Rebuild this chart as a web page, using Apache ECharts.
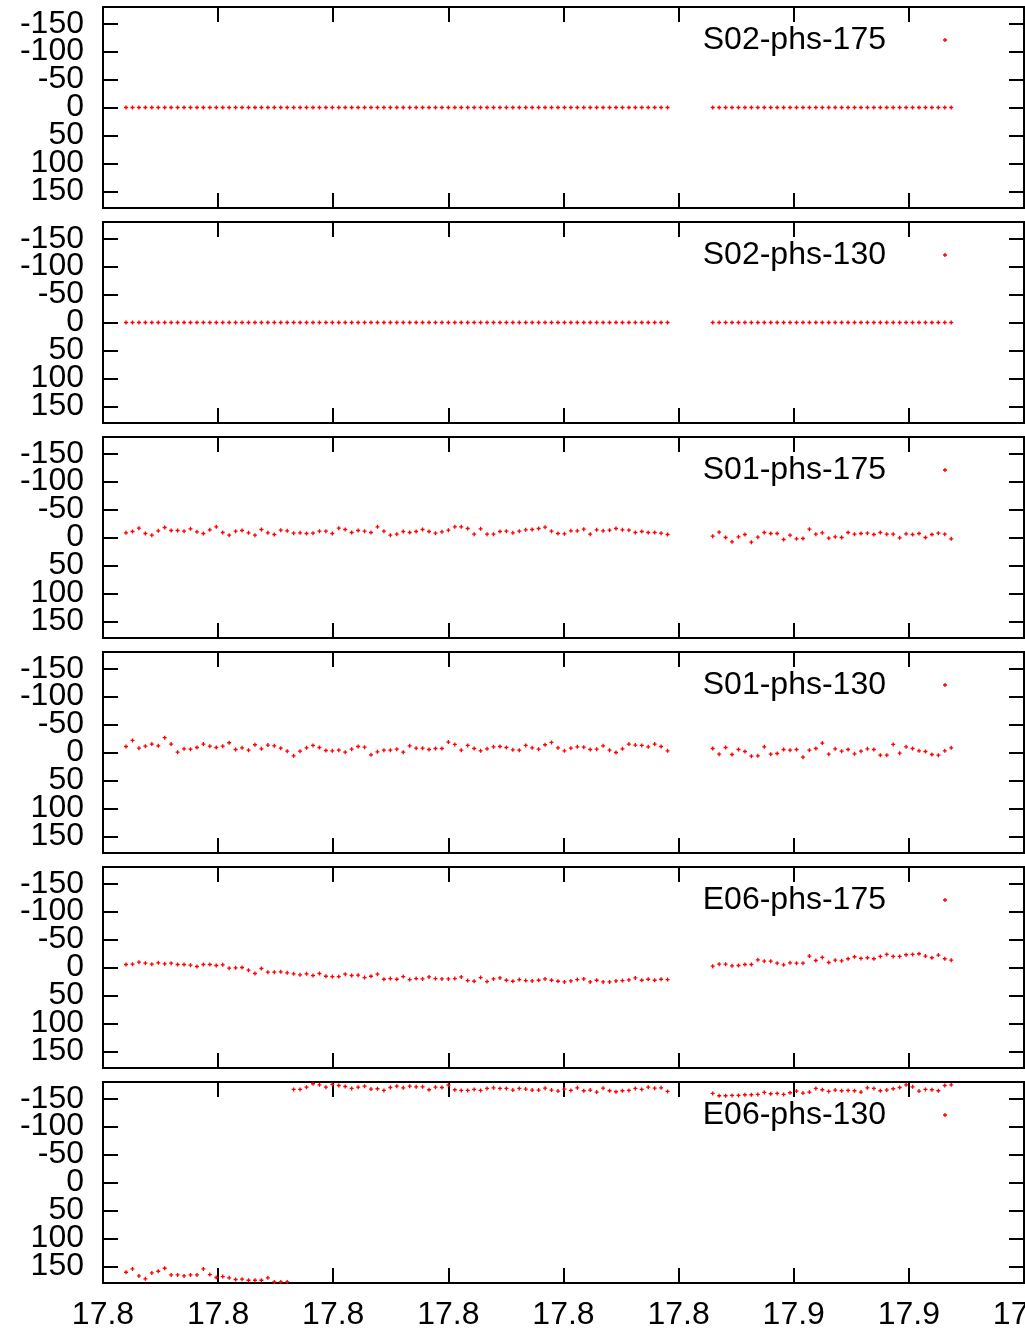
<!DOCTYPE html>
<html>
<head>
<meta charset="utf-8">
<script src="https://cdn.jsdelivr.net/npm/echarts@6/dist/echarts.min.js"></script>
<style>
  html, body { margin: 0; padding: 0; background: #fff; }
  #chart { width: 1025px; height: 1332px; }
</style>
</head>
<body>
<div id="chart"></div>
<script>
// Time axis (hours UT) and its tick labels
const xTicks = [17.79, 17.80, 17.81, 17.82, 17.83, 17.84, 17.85, 17.86, 17.87];
const xTickLabels = ['17.8', '17.8', '17.8', '17.8', '17.8', '17.8', '17.9', '17.9', '17.9'];
const yTicks = [-150, -100, -50, 0, 50, 100, 150];

// Sample clock: one sample every ~2 s, starting at 17.792 h
const sampleStart = 17.792;
const sampleStep = 0.00056;

// Phase (deg) per baseline; null marks the dropped scans
const S02_175 = [
  0,0,0,0,0,0,0,0,0,0, 0,0,0,0,0,0,0,0,0,0, 0,0,0,0,0,0,0,0,0,0,
  0,0,0,0,0,0,0,0,0,0, 0,0,0,0,0,0,0,0,0,0, 0,0,0,0,0,0,0,0,0,0,
  0,0,0,0,0,0,0,0,0,0, 0,0,0,0,0,0,0,0,0,0, 0,0,0,0,0,
  null,null,null,null,null,null,
  0,0,0,0,0,0,0,0,0,0, 0,0,0,0,0,0,0,0,0,0, 0,0,0,0,0,0,0,0,0,0,
  0,0,0,0,0,0,0,0
];
const S02_130 = [
  0,0,0,0,0,0,0,0,0,0, 0,0,0,0,0,0,0,0,0,0, 0,0,0,0,0,0,0,0,0,0,
  0,0,0,0,0,0,0,0,0,0, 0,0,0,0,0,0,0,0,0,0, 0,0,0,0,0,0,0,0,0,0,
  0,0,0,0,0,0,0,0,0,0, 0,0,0,0,0,0,0,0,0,0, 0,0,0,0,0,
  null,null,null,null,null,null,
  0,0,0,0,0,0,0,0,0,0, 0,0,0,0,0,0,0,0,0,0, 0,0,0,0,0,0,0,0,0,0,
  0,0,0,0,0,0,0,0
];
const S01_175 = [
  -8.4,-10.7,-16.7,-7.2,-4.2,-11.9,-17.9,-12.5,-12.5,-11.3,
  -15.5,-10.1,-7.2,-13.7,-19.1,-9.0,-4.2,-11.3,-12.5,-8.4,
  -4.2,-14.3,-8.4,-5.4,-13.1,-11.9,-7.8,-8.4,-7.2,-7.8,
  -11.3,-11.3,-7.2,-16.7,-14.3,-9.0,-12.5,-11.3,-9.0,-19.1,
  -11.3,-4.2,-6.0,-10.7,-9.0,
  -10.7,-14.3,-10.7,-7.8,-10.1,-13.1,-19.1,-19.1,-16.1,-6.0,
  -15.5,-6.0,-6.0,-10.7,-11.3,-8.4,-11.3,-13.7,-14.3,-16.1,
  -18.5,-11.3,-7.2,-6.6,-11.9,-11.9,-14.9,-6.0,-13.7,-11.9,
  -13.1,-16.1,-13.7,-13.1,-9.0,-10.7,-9.0,-9.0,-7.8,-5.4,
  null,null,null,null,null,null,
  -2.4,-9.6,0,7.8,-1.2,-5.4,8.4,-0.6,-9.0,-7.2,
  -7.2,3.6,-4.2,2.4,1.8,-14.9,-6.0,-8.4,1.2,-1.2,
  0,-9.0,-6.0,-7.2,-7.8,-5.4,-9.0,-6.0,-6.0,0.6,
  -6.6,-5.4,-7.2,0,-5.4,-7.8,-6.0,2.4
];
const S01_130 = [
  -10.8,-21.7,-7.8,-11.4,-15.1,-12.0,-26.5,-15.1,-0.6,-6.6,
  -6.0,-9.0,-15.1,-11.4,-9.0,-11.4,-17.5,-5.4,-8.4,-4.2,
  -13.9,-6.6,-13.3,-12.0,-7.8,-2.4,6.0,-2.4,-8.4,-12.7,
  -9.0,-3.6,-3.0,-4.2,-0.6,-6.0,-10.8,-9.6,4.2,-1.2,
  -4.2,-4.2,-6.0,-0.6,-12.0,
  -7.8,-7.8,-5.4,-7.2,-7.2,-18.7,-14.5,-4.2,-12.7,-7.2,
  -3.0,-6.6,-10.2,-10.8,-9.0,-4.8,-4.2,-12.7,-8.4,-6.0,
  -13.9,-18.1,-8.4,-3.0,-7.8,-10.2,-9.6,-5.4,-6.0,-12.0,
  -4.2,0,-6.6,-15.1,-13.3,-12.7,-10.2,-15.1,-10.8,-3.0,
  null,null,null,null,null,null,
  -7.2,3.0,-9.0,3.6,-5.4,-1.8,6.6,6.0,-10.2,3.0,
  1.8,-5.4,-4.2,-5.4,8.4,-4.2,-7.2,-16.9,3.0,-6.6,
  -2.4,-5.4,2.4,-2.4,-6.6,-5.4,4.8,4.8,-14.5,1.2,
  -10.2,-7.2,-3.0,-1.8,3.6,4.8,-3.0,-8.4
];
const E06_175 = [
  -5.4,-6.0,-9.6,-7.8,-6.0,-8.4,-6.6,-7.8,-5.4,-5.4,
  -4.2,-1.8,-5.4,-5.4,-3.6,-4.8,1.2,0.6,0,4.8,
  10.8,1.8,8.4,8.4,7.8,9.6,11.4,13.2,11.4,14.4,
  10.8,15.6,16.2,16.2,12.0,14.4,13.8,18.0,15.6,12.0,
  21.0,19.8,21.0,16.2,21.6,
  19.8,20.4,16.8,19.8,20.4,20.4,19.8,16.8,23.4,24.6,
  18.0,25.2,20.4,18.6,22.8,24.6,21.6,23.4,24.0,22.8,
  20.4,22.8,24.6,25.8,24.0,21.6,20.4,25.8,22.8,25.8,
  25.8,24.0,23.4,22.2,18.6,22.8,21.0,22.8,21.0,21.6,
  null,null,null,null,null,null,
  -2.4,-6.0,-6.0,-3.0,-3.6,-5.4,-5.4,-13.8,-11.4,-11.4,
  -7.8,-4.8,-8.4,-7.8,-7.8,-20.4,-12.6,-18.0,-9.0,-13.2,
  -12.0,-15.6,-19.2,-16.2,-17.4,-15.6,-19.8,-23.4,-19.8,-19.8,
  -22.8,-23.4,-24.6,-20.4,-17.4,-22.2,-15.6,-13.2
];
const E06_130 = [
  160.7,154.8,167.3,172.6,161.9,158.9,153.6,165.5,165.5,167.3,
  165.5,165.5,154.8,164.9,170.2,168.5,170.8,173.8,173.2,175.0,
  175.0,175.0,170.8,178.0,178.0,178.0,
  -166.7,-166.7,-170.8,-176.8,-175.0,-170.8,-175.6,-173.8,-172.0,-168.5,
  -170.8,-172.6,-167.3,-167.9,-164.9,-170.2,-172.6,-169.6,-172.6,-171.4,
  -171.4,-166.1,-170.8,-170.2,-174.4,-166.1,-164.9,-164.9,-166.7,-164.9,
  -168.5,-169.6,-168.5,-168.5,-165.5,-168.5,-167.3,-165.5,-165.5,-169.0,
  -165.5,-163.7,-167.3,-164.9,-169.6,-164.3,-165.5,-161.9,-169.0,-164.3,
  -162.5,-164.3,-164.9,-168.5,-166.7,-170.8,-169.0,-169.6,-163.1,
  null,null,null,null,null,null,
  -159.5,-155.4,-155.4,-156.0,-156.0,-157.1,-157.1,-157.7,-161.3,-158.9,
  -159.5,-157.7,-160.7,-163.7,-160.1,-161.9,-168.5,-166.1,-163.1,-165.5,
  -164.3,-164.9,-164.3,-161.9,-169.6,-168.5,-164.3,-165.5,-167.9,-170.2,
  -175.0,-171.4,-163.7,-166.7,-166.1,-164.3,-173.8,-175.0
];

const panelNames = ['S02-phs-175', 'S02-phs-130', 'S01-phs-175', 'S01-phs-130', 'E06-phs-175', 'E06-phs-130'];
const panelValues = [S02_175, S02_130, S01_175, S01_130, E06_175, E06_130];

const FONT = "'Liberation Sans', Arial, Helvetica, sans-serif";
const FONT_SIZE = 32;
const PLUS = 'path://M1 0H2V1H3V2H2V3H1V2H0V1H1Z';
const RED = '#ff0000';

const gridLeft = 103, gridWidth = 921, gridTop0 = 7, gridHeight = 201, gridStep = 215;

// The tall labels sit closer than their own height, so alternate ticks
// are labelled by two stacked left axes to keep every label visible.
const yLabelSets = [
  yTicks.filter((v, i) => i % 2 === 0),
  yTicks.filter((v, i) => i % 2 === 1)
];

function toPoints(values) {
  const pts = [];
  values.forEach((v, i) => {
    if (v !== null) pts.push([sampleStart + i * sampleStep, v]);
  });
  return pts;
}

function xLabel(v) {
  let best = 0;
  xTicks.forEach((t, i) => { if (Math.abs(t - v) < Math.abs(xTicks[best] - v)) best = i; });
  return xTickLabels[best];
}

const grid = [], xAxis = [], yAxis = [], series = [], legend = [];
const tickStyle = { color: '#000', width: 2 };

panelNames.forEach((name, p) => {
  const top = gridTop0 + p * gridStep;
  const last = p === panelNames.length - 1;
  grid.push({
    left: gridLeft, width: gridWidth, top: top, height: gridHeight,
    outerBoundsMode: 'none', containLabel: false,
    show: true, borderColor: '#000', borderWidth: 2, backgroundColor: 'transparent'
  });
  ['bottom', 'top'].forEach(pos => {
    xAxis.push({
      type: 'value', gridIndex: p, position: pos,
      min: xTicks[0], max: xTicks[xTicks.length - 1],
      axisLine: { show: false, onZero: false },
      splitLine: { show: false },
      axisTick: { show: true, inside: true, length: 15, customValues: xTicks, lineStyle: tickStyle },
      axisLabel: {
        show: last && pos === 'bottom', customValues: xTicks, formatter: xLabel,
        showMinLabel: true, showMaxLabel: true, hideOverlap: false, interval: 0,
        color: '#000', fontSize: FONT_SIZE, fontFamily: FONT, margin: 16
      }
    });
  });
  const yBase = {
    type: 'value', gridIndex: p, inverse: true, min: -180, max: 180,
    axisLine: { show: false, onZero: false },
    splitLine: { show: false }
  };
  // left axis: ticks + even labels (series bound here)
  yAxis.push(Object.assign({}, yBase, {
    position: 'left',
    axisTick: { show: true, inside: true, length: 15, customValues: yTicks, lineStyle: tickStyle },
    axisLabel: {
      customValues: yLabelSets[0], showMinLabel: true, showMaxLabel: true, hideOverlap: false,
      color: '#000', fontSize: FONT_SIZE, fontFamily: FONT, margin: 19
    }
  }));
  // left axis: odd labels only
  yAxis.push(Object.assign({}, yBase, {
    position: 'left', offset: 0,
    axisTick: { show: false },
    axisLabel: {
      customValues: yLabelSets[1], showMinLabel: true, showMaxLabel: true, hideOverlap: false,
      color: '#000', fontSize: FONT_SIZE, fontFamily: FONT, margin: 19
    }
  }));
  // right axis: mirrored ticks
  yAxis.push(Object.assign({}, yBase, {
    position: 'right',
    axisTick: { show: true, inside: true, length: 15, customValues: yTicks, lineStyle: tickStyle },
    axisLabel: { show: false }
  }));
  series.push({
    name: name, type: 'scatter',
    xAxisIndex: p * 2, yAxisIndex: p * 3,
    data: toPoints(panelValues[p]),
    symbol: PLUS, symbolSize: 4,
    itemStyle: { color: RED, opacity: 1 },
    clip: true, silent: true, animation: false
  });
  legend.push({
    data: [name], align: 'right', orient: 'vertical',
    right: 78, top: top + 17, padding: 0,
    icon: PLUS, itemWidth: 4, itemHeight: 4,
    selectedMode: false,
    textStyle: { color: '#000', fontSize: FONT_SIZE, fontFamily: FONT, padding: [0, 52, 0, 0] }
  });
});

const chart = echarts.init(document.getElementById('chart'), null, { renderer: 'canvas' });
chart.setOption({
  backgroundColor: '#fff',
  animation: false,
  grid, xAxis, yAxis, series, legend
});
</script>
</body>
</html>
